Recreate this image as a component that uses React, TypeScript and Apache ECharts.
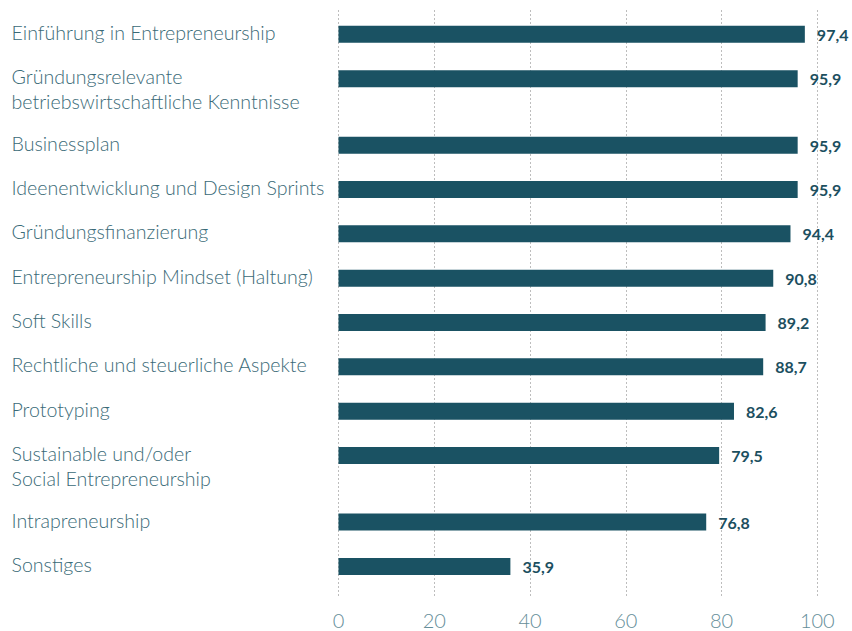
import React, { useEffect, useRef } from "react";
import * as echarts from "echarts";

const categories: string[] = [
  "Einführung in Entrepreneurship",
  "Gründungsrelevante\nbetriebswirtschaftliche Kenntnisse",
  "Businessplan",
  "Ideenentwicklung und Design Sprints",
  "Gründungsfinanzierung",
  "Entrepreneurship Mindset (Haltung)",
  "Soft Skills",
  "Rechtliche und steuerliche Aspekte",
  "Prototyping",
  "Sustainable und/oder\nSocial Entrepreneurship",
  "Intrapreneurship",
  "Sonstiges",
];

const values: number[] = [97.4, 95.9, 95.9, 95.9, 94.4, 90.8, 89.2, 88.7, 82.6, 79.5, 76.8, 35.9];

const xTicks: number[] = [0, 20, 40, 60, 80, 100];

export default function App() {
  const ref = useRef<HTMLDivElement>(null);

  useEffect(() => {
    if (!ref.current) return;
    const chart = echarts.init(ref.current, undefined, { renderer: "svg" });

    // Each category takes one slot, followed by spacer slots
    // (one per text line) so multi-line labels get extra room.
    const slotKeys: string[] = [];
    const slotLabels: Record<string, string> = {};
    const slotValues: (number | string)[] = [];
    categories.forEach((c, i) => {
      const key = "c" + i;
      slotKeys.push(key);
      const lines = c.split("\n");
      const body = lines.map((l) => "{t|" + l + "}").join("\n");
      slotLabels[key] = (lines.length > 1 ? "{t| }\n" : "") + body + "\n{g| }";
      slotValues.push(values[i]);
      if (i < categories.length - 1) {
        for (let k = 0; k < lines.length; k++) {
          const sk = "s" + i + "_" + k;
          slotKeys.push(sk);
          slotLabels[sk] = "";
          slotValues.push("-");
        }
      }
    });

    const left = 338.5;
    const right = 852 - 817.3;
    const unit = 22.17;
    const firstCenter = 34.3;
    const gridTop = firstCenter - unit / 2;
    const gridHeight = unit * slotKeys.length;

    const labelStyle = {
      color: "#3a6a77",
      fontFamily: "Lato",
      fontWeight: 300,
      fontSize: 19.6,
      lineHeight: 25,
    };

    chart.setOption({
      animation: false,
      grid: [
        { left, right, top: 10, bottom: 631 - 598, containLabel: false },
        { left, right, top: gridTop, height: gridHeight, containLabel: false },
      ],
      xAxis: [
        {
          gridIndex: 0,
          type: "value",
          min: xTicks[0],
          max: xTicks[xTicks.length - 1],
          interval: xTicks[1] - xTicks[0],
          axisLine: { show: false },
          axisTick: { show: false },
          splitLine: { show: true, lineStyle: { type: [2, 2], color: "#bdbdbd", width: 1 } },
          axisLabel: {
            margin: 12,
            color: "#658e99",
            fontFamily: "Lato",
            fontWeight: 300,
            fontSize: 20,
          },
        },
        {
          gridIndex: 1,
          type: "value",
          min: xTicks[0],
          max: xTicks[xTicks.length - 1],
          show: false,
        },
      ],
      yAxis: [
        { gridIndex: 0, type: "value", show: false },
        {
          gridIndex: 1,
          type: "category",
          inverse: true,
          data: slotKeys,
          axisLine: { show: false },
          axisTick: { show: false },
          splitLine: { show: false },
          axisLabel: {
            interval: 0,
            align: "left",
            margin: left - 11.5,
            ...labelStyle,
            rich: {
              t: { ...labelStyle, align: "left" },
              g: { fontSize: 1, lineHeight: 4, align: "left" },
            },
            formatter: (v: string) => slotLabels[v] ?? "",
          },
        },
      ],
      series: [
        {
          type: "bar",
          xAxisIndex: 1,
          yAxisIndex: 1,
          data: slotValues,
          barWidth: 17,
          itemStyle: { color: "#1a5263" },
          label: {
            show: true,
            position: "right",
            distance: 12,
            color: "#1c4f5f",
            fontFamily: "Lato",
            fontWeight: 700,
            fontSize: 16,
            formatter: (p: any) => (typeof p.value === "number" ? p.value.toFixed(1).replace(".", ",") : ""),
          },
        },
      ],
    });

    return () => chart.dispose();
  }, []);

  return (
    <div
      ref={ref}
      style={{ position: "absolute", left: 0, top: 0, width: 852, height: 631 }}
    />
  );
}
